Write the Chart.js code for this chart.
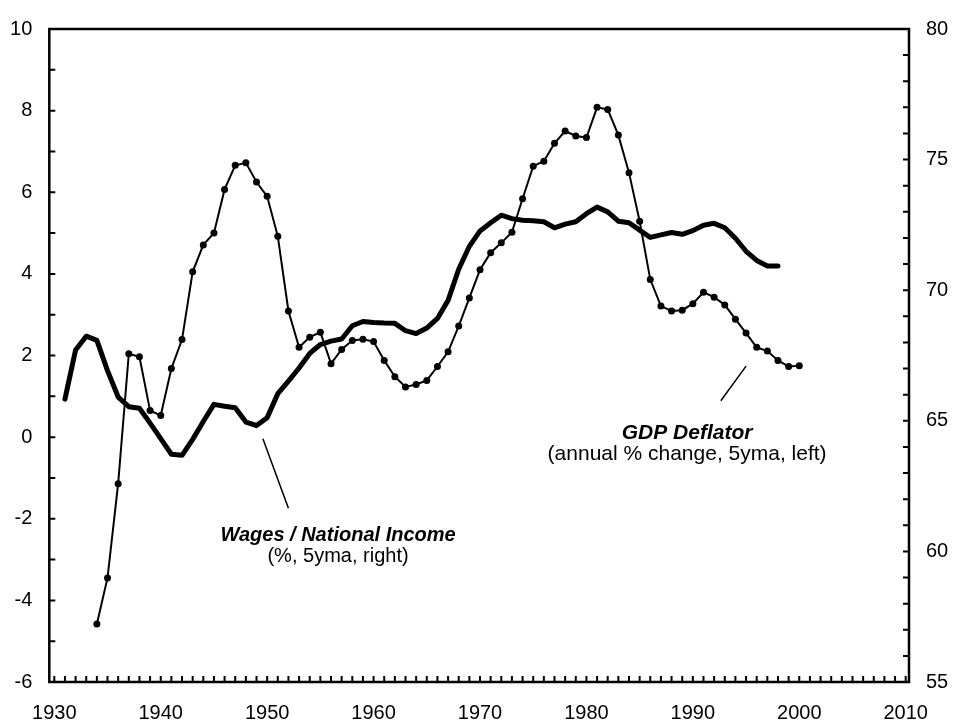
<!DOCTYPE html>
<html>
<head>
<meta charset="utf-8">
<script src="https://cdn.jsdelivr.net/npm/chart.js@4.4.1/dist/chart.umd.min.js"></script>
<style>
  html, body { margin: 0; padding: 0; background: #fff; }
</style>
</head>
<body>
<canvas id="chart" width="954" height="727"></canvas>
<script>
// GDP deflator, annual % change, 5yma (left axis), 1934-2000
const deflatorStart = 1934;
const deflator = [
  -4.58, -3.45, -1.14, 2.04, 1.97, 0.65, 0.53, 1.68, 2.39, 4.05,
  4.71, 5.00, 6.07, 6.66, 6.72, 6.25, 5.90, 4.92, 3.09, 2.20,
  2.45, 2.57, 1.80, 2.15, 2.37, 2.40, 2.34, 1.88, 1.48, 1.23,
  1.29, 1.39, 1.73, 2.09, 2.72, 3.41, 4.10, 4.52, 4.76, 5.02,
  5.84, 6.64, 6.76, 7.20, 7.50, 7.38, 7.34, 8.08, 8.03, 7.40,
  6.48, 5.29, 3.86, 3.21, 3.09, 3.11, 3.27, 3.55, 3.43, 3.24,
  2.89, 2.55, 2.20, 2.11, 1.88, 1.73, 1.75
];

// Wages / national income, %, 5yma (right axis), 1931-1998
const wagesStart = 1931;
const wages = [
  65.83, 67.71, 68.24, 68.08, 66.92, 65.91, 65.54, 65.48, 64.91, 64.32,
  63.72, 63.68, 64.29, 64.97, 65.63, 65.56, 65.50, 64.95, 64.82, 65.12,
  66.04, 66.52, 67.02, 67.58, 67.92, 68.05, 68.13, 68.64, 68.80, 68.76,
  68.74, 68.73, 68.45, 68.34, 68.55, 68.92, 69.61, 70.80, 71.68, 72.27,
  72.58, 72.87, 72.74, 72.68, 72.66, 72.62, 72.39, 72.53, 72.62, 72.93,
  73.18, 73.00, 72.64, 72.58, 72.30, 72.02, 72.12, 72.21, 72.14, 72.28,
  72.49, 72.56, 72.39, 71.99, 71.49, 71.14, 70.93, 70.93
];

const yearTicks = [1930, 1940, 1950, 1960, 1970, 1980, 1990, 2000, 2010];

// annotation labels, placed in data units (x = year, y = left axis)
const labels = [
  { x: 1956.66, y: -2.54, text: 'Wages / National Income', bold: true, size: 20 },
  { x: 1956.66, y: -3.07, text: '(%, 5yma, right)', bold: false, size: 20 },
  { x: 1989.46, y: -0.04, text: 'GDP Deflator', bold: true, size: 21 },
  { x: 1989.46, y: -0.56, text: '(annual % change, 5yma, left)', bold: false, size: 21 }
];
const pointers = [
  { x1: 1949.6, y1: -0.04, x2: 1952.0, y2: -1.74 },
  { x1: 1995.0, y1: 1.74, x2: 1992.63, y2: 0.89 }
];

const FONT = '"Liberation Sans", Arial, sans-serif';
const tickFont = { family: FONT, size: 20 };

const toPoints = (start, arr) => arr.map((v, i) => ({ x: start + i, y: v }));

const framePlugin = {
  id: 'frame',
  afterDatasetsDraw(chart) {
    const { ctx, chartArea: a, scales } = chart;
    ctx.save();
    ctx.strokeStyle = '#000';

    // inward tick marks
    ctx.lineWidth = 2;
    ctx.beginPath();
    for (let v = scales.y.min; v <= scales.y.max; v++) {
      const p = scales.y.getPixelForValue(v);
      ctx.moveTo(a.left, p); ctx.lineTo(a.left + 6, p);
    }
    for (let v = scales.y1.min; v <= scales.y1.max; v++) {
      const p = scales.y1.getPixelForValue(v);
      ctx.moveTo(a.right, p); ctx.lineTo(a.right - 6, p);
    }
    for (let yr = 1930; yr <= 2010; yr++) {
      const p = scales.x.getPixelForValue(yr);
      ctx.moveTo(p, a.bottom); ctx.lineTo(p, a.bottom - 6);
    }
    ctx.stroke();

    // box
    ctx.lineWidth = 2.5;
    ctx.strokeRect(a.left, a.top, a.right - a.left, a.bottom - a.top);

    // pointer lines
    ctx.lineWidth = 1.5;
    ctx.beginPath();
    pointers.forEach(p => {
      ctx.moveTo(scales.x.getPixelForValue(p.x1), scales.y.getPixelForValue(p.y1));
      ctx.lineTo(scales.x.getPixelForValue(p.x2), scales.y.getPixelForValue(p.y2));
    });
    ctx.stroke();

    // labels
    ctx.fillStyle = '#000';
    ctx.textAlign = 'center';
    ctx.textBaseline = 'alphabetic';
    labels.forEach(l => {
      ctx.font = (l.bold ? 'italic bold ' : '') + l.size + 'px ' + FONT;
      ctx.fillText(l.text, scales.x.getPixelForValue(l.x), scales.y.getPixelForValue(l.y));
    });
    ctx.restore();
  }
};

new Chart(document.getElementById('chart'), {
  type: 'line',
  data: {
    datasets: [
      {
        label: 'GDP Deflator',
        data: toPoints(deflatorStart, deflator),
        yAxisID: 'y',
        borderColor: '#000',
        backgroundColor: '#000',
        borderWidth: 2,
        pointRadius: 3.5,
        pointBorderWidth: 0,
        pointBackgroundColor: '#000',
        tension: 0
      },
      {
        label: 'Wages / National Income',
        data: toPoints(wagesStart, wages),
        yAxisID: 'y1',
        borderColor: '#000',
        borderWidth: 5,
        borderJoinStyle: 'round',
        borderCapStyle: 'round',
        pointRadius: 0,
        tension: 0
      }
    ]
  },
  options: {
    responsive: false,
    animation: false,
    layout: { padding: { top: 17, left: 0, right: 0, bottom: 0 } },
    plugins: {
      legend: { display: false },
      tooltip: { enabled: false }
    },
    scales: {
      x: {
        type: 'linear',
        position: 'bottom',
        min: 1929.53,
        max: 2010.31,
        afterBuildTicks: s => { s.ticks = yearTicks.map(v => ({ value: v })); },
        afterFit: s => { s.height = 45; },
        grid: { display: false, drawTicks: false },
        border: { display: false },
        ticks: {
          autoSkip: false,
          maxRotation: 0,
          padding: 19,
          color: '#000',
          font: tickFont,
          callback: v => String(v)
        }
      },
      y: {
        type: 'linear',
        position: 'left',
        min: -6,
        max: 10,
        afterFit: s => { s.width = 49.3; },
        grid: { display: false, drawTicks: false },
        border: { display: false },
        ticks: { stepSize: 2, padding: 17, color: '#000', font: tickFont }
      },
      y1: {
        type: 'linear',
        position: 'right',
        min: 55,
        max: 80,
        afterFit: s => { s.width = 45; },
        grid: { display: false, drawTicks: false },
        border: { display: false },
        ticks: { stepSize: 5, padding: 17, color: '#000', font: tickFont }
      }
    }
  },
  plugins: [framePlugin]
});
</script>
</body>
</html>
